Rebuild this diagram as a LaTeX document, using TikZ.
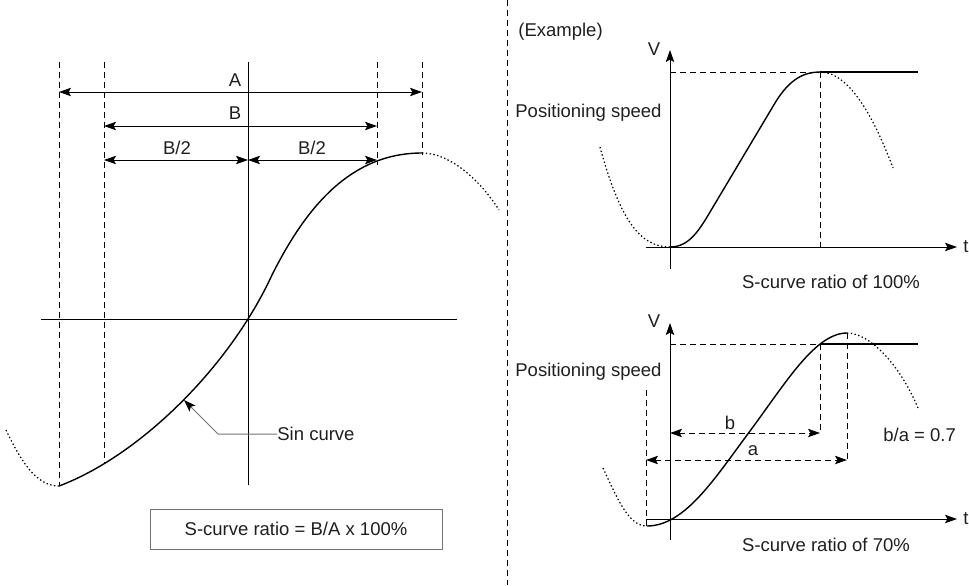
\documentclass[tikz,border=0pt]{standalone}
\usepackage{fontspec}
\setmainfont{Liberation Sans}
\usepackage{tikz}
\usetikzlibrary{
  arrows.meta,   % Stealth tips on dimension lines and axes
  positioning    % relative placement
}
\tikzset{
  dimline/.style={{Stealth[length=6pt,width=4.2pt,inset=1.2pt]}-{Stealth[length=6pt,width=4.2pt,inset=1.2pt]}, line width=0.5pt},
  axisline/.style={-{Stealth[length=6pt,width=4.2pt,inset=1.2pt]}, line width=0.5pt},
  guide/.style={line width=0.5pt, dash pattern=on 3pt off 2pt},
  ghost/.style={line width=0.6pt, dash pattern=on 0.7pt off 1.2pt},
  curve/.style={line width=0.7pt},
  lbl/.style={inner sep=0pt, text=black!88, font=\fontsize{9.25}{11}\selectfont},
}

\begin{document}
\begin{tikzpicture}[x=0.5pt,y=-0.5pt]
  \useasboundingbox (0,0) rectangle (969,585);

  % left: definition of the S-curve ratio
  \draw[guide] (59,62) -- (59,486);
  \draw[guide] (104,62) -- (104,464);
  \draw[guide] (377,62) -- (377,165);
  \draw[guide] (422,62) -- (422,155);
  \draw[line width=0.5pt] (248,62) -- (248,485);
  \draw[line width=0.5pt] (41,319) -- (457,319);

  \coordinate (aL) at (59,92);   \coordinate (aR) at (422,92);
  \coordinate (bL) at (104,126); \coordinate (bR) at (377,126);
  \coordinate (hL) at (104,160); \coordinate (hM) at (248,160); \coordinate (hR) at (377,160);
  \draw[dimline] (aL) -- (aR);
  \draw[dimline] (bL) -- (bR);
  \draw[dimline] (hL) -- (hM);
  \draw[dimline] (hM) -- (hR);
  \node[lbl] (labA) at (235,80) {A};
  \node[lbl] (labB) at (235,113) {B};
  \node[lbl] (halfL) at (177,148) {B/2};
  \node[lbl] (halfR) at (312,148) {B/2};

  \draw[ghost] (6,430) .. controls (25,470) and (40,486) .. (59,486);
  \draw[curve] (59,486) .. controls (139,456) and (229,368) .. (272,275)
    .. controls (307,205) and (352,153) .. (422,153);
  \draw[ghost] (422,153) .. controls (450,153) and (480,180) .. (499,210);

  \node[lbl, anchor=west] (sinlbl) at (277,434) {Sin curve};
  \coordinate (sinbend) at (218,434);
  \coordinate (sintip) at (184,400);
  \draw[black!55, line width=0.5pt, -{Stealth[length=6pt,width=4.2pt,inset=1.2pt,color=black]}]
    (sinlbl.west) -- (sinbend) -- (sintip);

  \node[lbl, draw=black!55, line width=0.5pt, minimum width=146pt, minimum height=20pt]
    (ratio) at (296,529) {S-curve ratio = B/A x 100\%};

  \draw[guide] (507,0) -- (507,585);

  % right, top: ratio of 100%
  \node[lbl, anchor=west] (example) at (518,32) {(Example)};
  \draw[axisline] (670,269) -- (670,50);
  \draw[axisline] (646,247) -- (957,247);
  \node[lbl] (v1) at (654,49) {V};
  \node[lbl] (t1) at (966,247) {t};
  \node[lbl, anchor=west] (speed1) at (515,113) {Positioning speed};
  \draw[guide] (670,72) -- (820,72) -- (820,247);
  \draw[line width=1.2pt] (820,72) -- (918,72);
  \draw[ghost] (600,147) .. controls (620,220) and (640,247) .. (670,247);
  \draw[curve] (670,247) .. controls (690,247) and (700,229) .. (713,207)
    -- (775,103) .. controls (790,78) and (805,72) .. (820,72);
  \draw[ghost] (820,72) .. controls (850,72) and (875,120) .. (893,168);
  \node[lbl] (cap1) at (831,282) {S-curve ratio of 100\%};

  % right, bottom: ratio of 70%
  \draw[axisline] (670,540) -- (670,323);
  \draw[axisline] (646,519) -- (957,519);
  \node[lbl] (v2) at (654,321) {V};
  \node[lbl] (t2) at (966,519) {t};
  \node[lbl, anchor=west] (speed2) at (515,372) {Positioning speed};
  \draw[guide] (670,344) -- (820,344) -- (820,433);
  \draw[guide] (847,333) -- (847,462);
  \draw[guide] (646,390) -- (646,519);
  \draw[line width=0.5pt] (646,519) -- (646,526);
  \draw[line width=1.2pt] (820,344) -- (918,344);

  \coordinate (sbL) at (670,433); \coordinate (sbR) at (820,433);
  \coordinate (saL) at (646,460); \coordinate (saR) at (847,460);
  \draw[dimline, guide] (sbL) -- (sbR);
  \draw[dimline, guide] (saL) -- (saR);
  \node[lbl] (labb) at (730,423) {b};
  \node[lbl] (laba) at (753,451) {a};
  \node[lbl, anchor=west] (quot) at (883,435) {b/a = 0.7};

  \draw[ghost] (603,468) .. controls (620,505) and (630,526) .. (647,526);
  \draw[curve] (647,526) .. controls (685,526) and (715,478) .. (750,431)
    .. controls (785,384) and (815,333) .. (847,333);
  \draw[ghost] (847,333) .. controls (870,333) and (900,365) .. (918,408);
  \node[lbl] (cap2) at (826,545) {S-curve ratio of 70\%};
\end{tikzpicture}
\end{document}
